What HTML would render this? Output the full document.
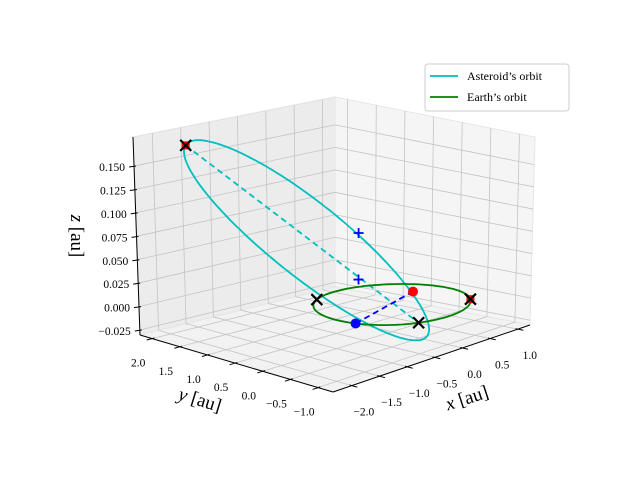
<!DOCTYPE html>
<html><head><meta charset="utf-8"><style>
html,body{margin:0;padding:0;background:#fff;}
svg{display:block;font-family:"Liberation Serif",serif;}
</style></head>
<body>
<svg id="chart" width="640" height="480" viewBox="0 0 640 480" xmlns="http://www.w3.org/2000/svg">
<g id="panes"></g>
<g id="grid"></g>
<g id="axes"></g>
<g id="ticks" font-size="11.5"></g>
<g id="series"></g>
<g id="markers"></g>
<text x="467" y="404" font-size="19" text-anchor="middle" transform="rotate(-18 467 398)"><tspan font-style="italic">x</tspan> [au]</text>
<text x="200" y="406" font-size="19" text-anchor="middle" transform="rotate(17 200 400)"><tspan font-style="italic">y</tspan> [au]</text>
<text x="71" y="236" font-size="19" text-anchor="middle" transform="rotate(90 71 236)"><tspan font-style="italic">z</tspan> [au]</text>
<g>
<rect x="425" y="64" width="144" height="47" rx="3" fill="#fff" fill-opacity="0.85" stroke="#cccccc" stroke-width="1"/>
<line x1="430" y1="76" x2="458" y2="76" stroke="#00bfbf" stroke-width="1.8"/>
<text x="467" y="80" font-size="12">Asteroid’s orbit</text>
<line x1="430" y1="97" x2="458" y2="97" stroke="#008000" stroke-width="1.8"/>
<text x="467" y="101" font-size="12">Earth’s orbit</text>
</g>
</svg>
<script>
// ---- data ----
const xTicks = [-2.0, -1.5, -1.0, -0.5, 0.0, 0.5, 1.0];
const yTicks = [-1.0, -0.5, 0.0, 0.5, 1.0, 1.5, 2.0];
const zTicks = [-0.025, 0.000, 0.025, 0.050, 0.075, 0.100, 0.125, 0.150];
const xTickLabels = ["−2.0","−1.5","−1.0","−0.5","0.0","0.5","1.0"];
const yTickLabels = ["−1.0","−0.5","0.0","0.5","1.0","1.5","2.0"];
const zTickLabels = ["−0.025","0.000","0.025","0.050","0.075","0.100","0.125","0.150"];
const xLimits = [-2.34, 1.22];
const yLimits = [-1.27, 2.22];
const zLimits = [-0.0303, 0.181];
const earthCenter = [0, 0, 0];
const earthRadius = [1.0];
const asteroidCenter = [-0.887, 0.620, 0.0739];
const asteroidAxisU = [0.349, -1.784, -0.0825];
const asteroidAxisV = [0.374, 0.757, -0.0482];
const crossPoints = [[-1.236, 2.404, 0.156], [-0.462, 0.887, 0], [-0.429, -0.903, 0], [0.757, -0.653, 0]];
const redMarkPoints = [[-1.236, 2.404, 0.156], [0.757, -0.653, 0]];
const apsideLine = [[-1.236, 2.404, 0.156], [-0.429, -0.903, 0]];
const earthPosition = [-0.955, -0.296, 0];
const asteroidPosition = [-0.899, -1.261, 0.0466];
const plusPoints = [[-1.209, -0.599, 0.1038], [-1.209, -0.599, 0.055]];

// ---- projection (box corners in screen space) ----
const BOT = {A:[333,392], B:[530,325], C:[140,335], D:[335,287]};
const TOP = {A:[333,182], B:[535,137], C:[133,137], D:[335,97]};
function bil(c,u,v){
  const a=(1-u)*(1-v), b=u*(1-v), cc=(1-u)*v, d=u*v;
  return [c.A[0]*a+c.B[0]*b+c.C[0]*cc+c.D[0]*d, c.A[1]*a+c.B[1]*b+c.C[1]*cc+c.D[1]*d];
}
function P(x,y,z){
  const u=(x-xLimits[0])/(xLimits[1]-xLimits[0]);
  const v=(y-yLimits[0])/(yLimits[1]-yLimits[0]);
  const w=(z-zLimits[0])/(zLimits[1]-zLimits[0]);
  const b=bil(BOT,u,v), t=bil(TOP,u,v);
  return [b[0]+(t[0]-b[0])*w, b[1]+(t[1]-b[1])*w];
}
const NS="http://www.w3.org/2000/svg";
function mk(tag, parent, attrs){
  const e=document.createElementNS(NS,tag);
  for(const k in attrs) e.setAttribute(k, attrs[k]);
  document.getElementById(parent).appendChild(e);
  return e;
}
function poly(pts){return pts.map(p=>p[0].toFixed(1)+","+p[1].toFixed(1)).join(" ");}
const X0=xLimits[0],X1=xLimits[1],Y0=yLimits[0],Y1=yLimits[1],Z0=zLimits[0],Z1=zLimits[1];

// panes
let e;
e=mk("polygon","panes",{points:poly([P(X0,Y1,Z0),P(X1,Y1,Z0),P(X1,Y1,Z1),P(X0,Y1,Z1)]),fill:"#ececec",stroke:"#e0e0e0"});


e=mk("polygon","panes",{points:poly([P(X1,Y0,Z0),P(X1,Y1,Z0),P(X1,Y1,Z1),P(X1,Y0,Z1)]),fill:"#f5f5f5",stroke:"#e6e6e6"});


e=mk("polygon","panes",{points:poly([P(X0,Y0,Z0),P(X1,Y0,Z0),P(X1,Y1,Z0),P(X0,Y1,Z0)]),fill:"#f2f2f2",stroke:"#e6e6e6"});



function gl(a,b){
  const l=mk("line","grid",{x1:a[0],y1:a[1],x2:b[0],y2:b[1],stroke:"#c4c4c4","stroke-width":0.8});
  
  
}
xTicks.forEach(x=>{gl(P(x,Y0,Z0),P(x,Y1,Z0)); gl(P(x,Y1,Z0),P(x,Y1,Z1));});
yTicks.forEach(y=>{gl(P(X0,y,Z0),P(X1,y,Z0)); gl(P(X1,y,Z0),P(X1,y,Z1));});
zTicks.forEach(z=>{gl(P(X0,Y1,z),P(X1,Y1,z)); gl(P(X1,Y0,z),P(X1,Y1,z));});

// axis lines
function al(a,b,name){
  const l=mk("line","axes",{x1:a[0],y1:a[1],x2:b[0],y2:b[1],stroke:"#000","stroke-width":1});
  
  
}
al(P(X0,Y0,Z0),P(X1,Y0,Z0),'x-axis-line');
al(P(X0,Y0,Z0),P(X0,Y1,Z0),'y-axis-line');
al(P(X0,Y1,Z0),P(X0,Y1,Z1),'z-axis-line');

function tk(a,b){
  const l=mk("line","axes",{x1:a[0],y1:a[1],x2:b[0],y2:b[1],stroke:"#000","stroke-width":1});
  
  
}
function txt(p,s,anchor,name){
  const t=mk("text","ticks",{x:p[0].toFixed(1),y:p[1].toFixed(1),"text-anchor":anchor});
  t.textContent=s;
  
  
}
xTicks.forEach((x,i)=>{
  const a=P(x,Y0,Z0), b=P(x,Y0-0.1,Z0);
  tk([a[0]-(b[0]-a[0])*0.4,a[1]-(b[1]-a[1])*0.4],b);
  txt([a[0]+12,a[1]+30],xTickLabels[i],"middle",'x-tick-label');
});
yTicks.forEach((y,i)=>{
  const a=P(X0,y,Z0), b=P(X0-0.1,y,Z0);
  tk([a[0]-(b[0]-a[0])*0.4,a[1]-(b[1]-a[1])*0.4],b);
  txt([a[0]-14,a[1]+28],yTickLabels[i],"middle",'y-tick-label');
});
zTicks.forEach((z,i)=>{
  const a=P(X0,Y1,z);
  tk([a[0]+2,a[1]],[a[0]-5,a[1]+1]);
  txt([a[0]-9,a[1]+5],zTickLabels[i],"end",'z-tick-label');
});

// series
const N=180;
function ser(pts,color,name,dash,w){
  const l=mk("polyline","series",{points:poly(pts),fill:"none",stroke:color,"stroke-width":w||1.8,"stroke-linejoin":"round"});
  if(dash) l.setAttribute("stroke-dasharray",dash);
  
  
}
const ast=[], earth=[];
for(let k=0;k<=N;k++){
  const t=2*Math.PI*k/N, c=Math.cos(t), s=Math.sin(t);
  ast.push(P(asteroidCenter[0]+asteroidAxisU[0]*c+asteroidAxisV[0]*s,
             asteroidCenter[1]+asteroidAxisU[1]*c+asteroidAxisV[1]*s,
             asteroidCenter[2]+asteroidAxisU[2]*c+asteroidAxisV[2]*s));
  earth.push(P(earthCenter[0]+earthRadius[0]*c, earthCenter[1]+earthRadius[0]*s, earthCenter[2]));
}
ser(ast,"#00bfbf",'asteroid-orbit');
ser(apsideLine.map(p=>P(p[0],p[1],p[2])),"#00bfbf",'apside-line',"6,4");
ser(earth,"#008000",'earth-orbit');
ser([P(...earthPosition),P(...asteroidPosition)],"#0000ff",'earth-asteroid-line',"6,4");

// markers
redMarkPoints.forEach(p=>{
  const q=P(p[0],p[1],p[2]);
  const r=mk("rect","markers",{x:q[0]-4,y:q[1]-4,width:8,height:8,fill:"#ff0000"});
  
  
});
crossPoints.forEach(p=>{
  const q=P(p[0],p[1],p[2]), d=5.5;
  const g=mk("path","markers",{d:`M${q[0]-d},${q[1]-d}L${q[0]+d},${q[1]+d}M${q[0]-d},${q[1]+d}L${q[0]+d},${q[1]-d}`,stroke:"#000","stroke-width":2.2,fill:"none"});
  
  
});
plusPoints.forEach(p=>{
  const q=P(p[0],p[1],p[2]), d=5;
  const g=mk("path","markers",{d:`M${q[0]-d},${q[1]}L${q[0]+d},${q[1]}M${q[0]},${q[1]-d}L${q[0]},${q[1]+d}`,stroke:"#0000ff","stroke-width":1.8,fill:"none"});
  
  
});
let q=P(...earthPosition);
e=mk("circle","markers",{cx:q[0],cy:q[1],r:5,fill:"#0000ff"});


q=P(...asteroidPosition);
e=mk("circle","markers",{cx:q[0],cy:q[1],r:5,fill:"#ff0000"});


</script>
</body></html>
